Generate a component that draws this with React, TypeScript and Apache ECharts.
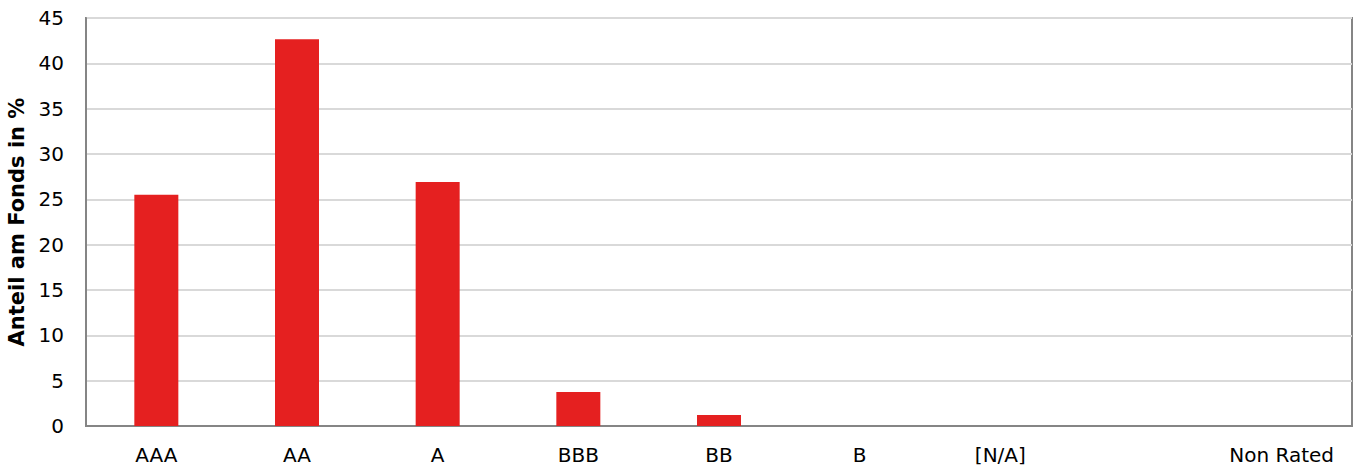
import React, { useEffect, useRef } from "react";
import * as echarts from "echarts";

const categories = ["AAA", "AA", "A", "BBB", "BB", "B", "[N/A]", "", "Non Rated"];
const values = [25.5, 42.65, 26.9, 3.75, 1.2, 0, 0, 0, 0];
const yTicks = { min: 0, max: 45, interval: 5 };
const yTitle = "Anteil am Fonds in %";

export default function App() {
  const ref = useRef<HTMLDivElement>(null);
  useEffect(() => {
    if (!ref.current) return;
    const chart = echarts.init(ref.current, null, { renderer: "svg" });
    chart.setOption({
      animation: false,
      grid: {
        left: 86,
        top: 18,
        right: 5,
        bottom: 40,
        show: true,
        borderColor: "#858585",
        borderWidth: 2,
        containLabel: false,
        outerBoundsMode: "none",
      },
      xAxis: {
        type: "category",
        data: categories,
        axisLine: { show: true, lineStyle: { color: "#858585", width: 2 } },
        axisTick: { show: false },
        axisLabel: {
          color: "#000",
          fontFamily: "DejaVu Sans",
          fontSize: 20,
          margin: 19,
          interval: 0,
        },
      },
      yAxis: {
        type: "value",
        min: yTicks.min,
        max: yTicks.max,
        interval: yTicks.interval,
        name: yTitle,
        nameLocation: "middle",
        nameRotate: 90,
        nameGap: 57,
        nameTextStyle: {
          color: "#000",
          fontFamily: "DejaVu Sans",
          fontSize: 21,
          fontWeight: "bold",
        },
        axisLine: { show: true, lineStyle: { color: "#858585", width: 2 } },
        axisTick: { show: false },
        axisLabel: {
          color: "#000",
          fontFamily: "DejaVu Sans",
          fontSize: 20,
          margin: 22,
        },
        splitLine: { show: true, lineStyle: { color: "#d9d9d9", width: 2 } },
      },
      series: [
        {
          type: "bar",
          data: values,
          barWidth: 44,
          itemStyle: { color: "#E52020" },
        },
      ],
    });
    return () => chart.dispose();
  }, []);
  return (
    <div
      ref={ref}
      style={{ position: "fixed", left: 0, top: 0, width: 1357, height: 466, background: "#fff" }}
    />
  );
}
